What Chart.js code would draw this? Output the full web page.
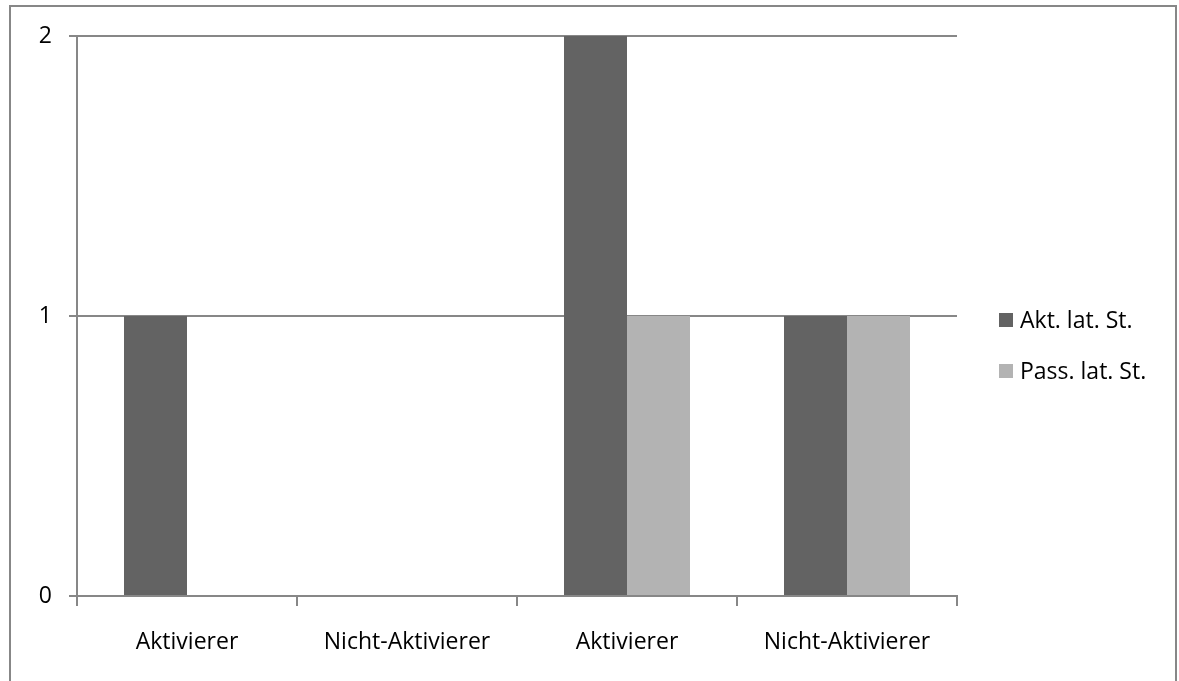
<!DOCTYPE html>
<html>
<head>
<meta charset="utf-8">
<script src="https://cdn.jsdelivr.net/npm/chart.js@4/dist/chart.umd.min.js"></script>
<style>
  html, body { margin: 0; padding: 0; background: #ffffff; }
  #wrap { position: relative; width: 1179px; height: 681px; overflow: hidden; }
  #frame { position: absolute; left: 9px; top: 5px; width: 1168px; height: 720px; border: 2px solid #878787; box-sizing: border-box; }
  #c { position: absolute; left: 0; top: 0; }
</style>
</head>
<body>
<div id="wrap">
  <div id="frame"></div>
  <canvas id="c" width="1179" height="681"></canvas>
</div>
<script>
// Categories and series
const categories = ['Aktivierer', 'Nicht-Aktivierer', 'Aktivierer', 'Nicht-Aktivierer'];
const aktLatSt = [1, 0, 2, 1];
const passLatSt = [0, 0, 1, 1];
const seriesLabels = ['Akt. lat. St.', 'Pass. lat. St.'];
const yTicks = [0, 1, 2];

const FONT = '"Open Sans", "Noto Sans", sans-serif';
const GRID = '#878787';

// Legend on the right, drawn from the dataset labels and colours
const sideLegend = {
  id: 'sideLegend',
  afterDraw(chart) {
    const ctx = chart.ctx;
    ctx.save();
    ctx.font = '23px ' + FONT;
    ctx.textBaseline = 'middle';
    ctx.textAlign = 'left';
    chart.data.datasets.forEach((ds, i) => {
      const cy = 320 + i * 51;
      ctx.fillStyle = ds.backgroundColor;
      ctx.fillRect(999, cy - 7, 14, 14);
      ctx.fillStyle = '#000000';
      ctx.fillText(ds.label, 1020, cy + 1);
    });
    ctx.restore();
  }
};

new Chart(document.getElementById('c'), {
  type: 'bar',
  data: {
    labels: categories,
    datasets: [
      { label: seriesLabels[0], data: aktLatSt, backgroundColor: '#636363' },
      { label: seriesLabels[1], data: passLatSt, backgroundColor: '#b3b3b3' }
    ]
  },
  options: {
    responsive: false,
    animation: false,
    devicePixelRatio: 1,
    layout: { padding: { left: 0, top: 36, right: 222, bottom: 0 } },
    datasets: { bar: { barPercentage: 1, categoryPercentage: 0.5727 } },
    plugins: { legend: { display: false }, tooltip: { enabled: false } },
    scales: {
      x: {
        afterFit(scale) { scale.height = 85; },
        border: { display: true, color: GRID, width: 2 },
        grid: { display: true, drawOnChartArea: false, drawTicks: true, tickLength: 10, color: GRID, lineWidth: 2, offset: true },
        ticks: { color: '#000000', font: { family: FONT, size: 23 }, padding: 23, maxRotation: 0 }
      },
      y: {
        min: 0,
        max: 2,
        afterFit(scale) { scale.width = 77; },
        afterBuildTicks(scale) { scale.ticks = yTicks.map(v => ({ value: v })); },
        border: { display: true, color: GRID, width: 2 },
        grid: { color: GRID, lineWidth: 2, tickLength: 8, drawTicks: true },
        ticks: { color: '#000000', font: { family: FONT, size: 23 }, padding: 17 }
      }
    }
  },
  plugins: [sideLegend]
});
</script>
</body>
</html>
